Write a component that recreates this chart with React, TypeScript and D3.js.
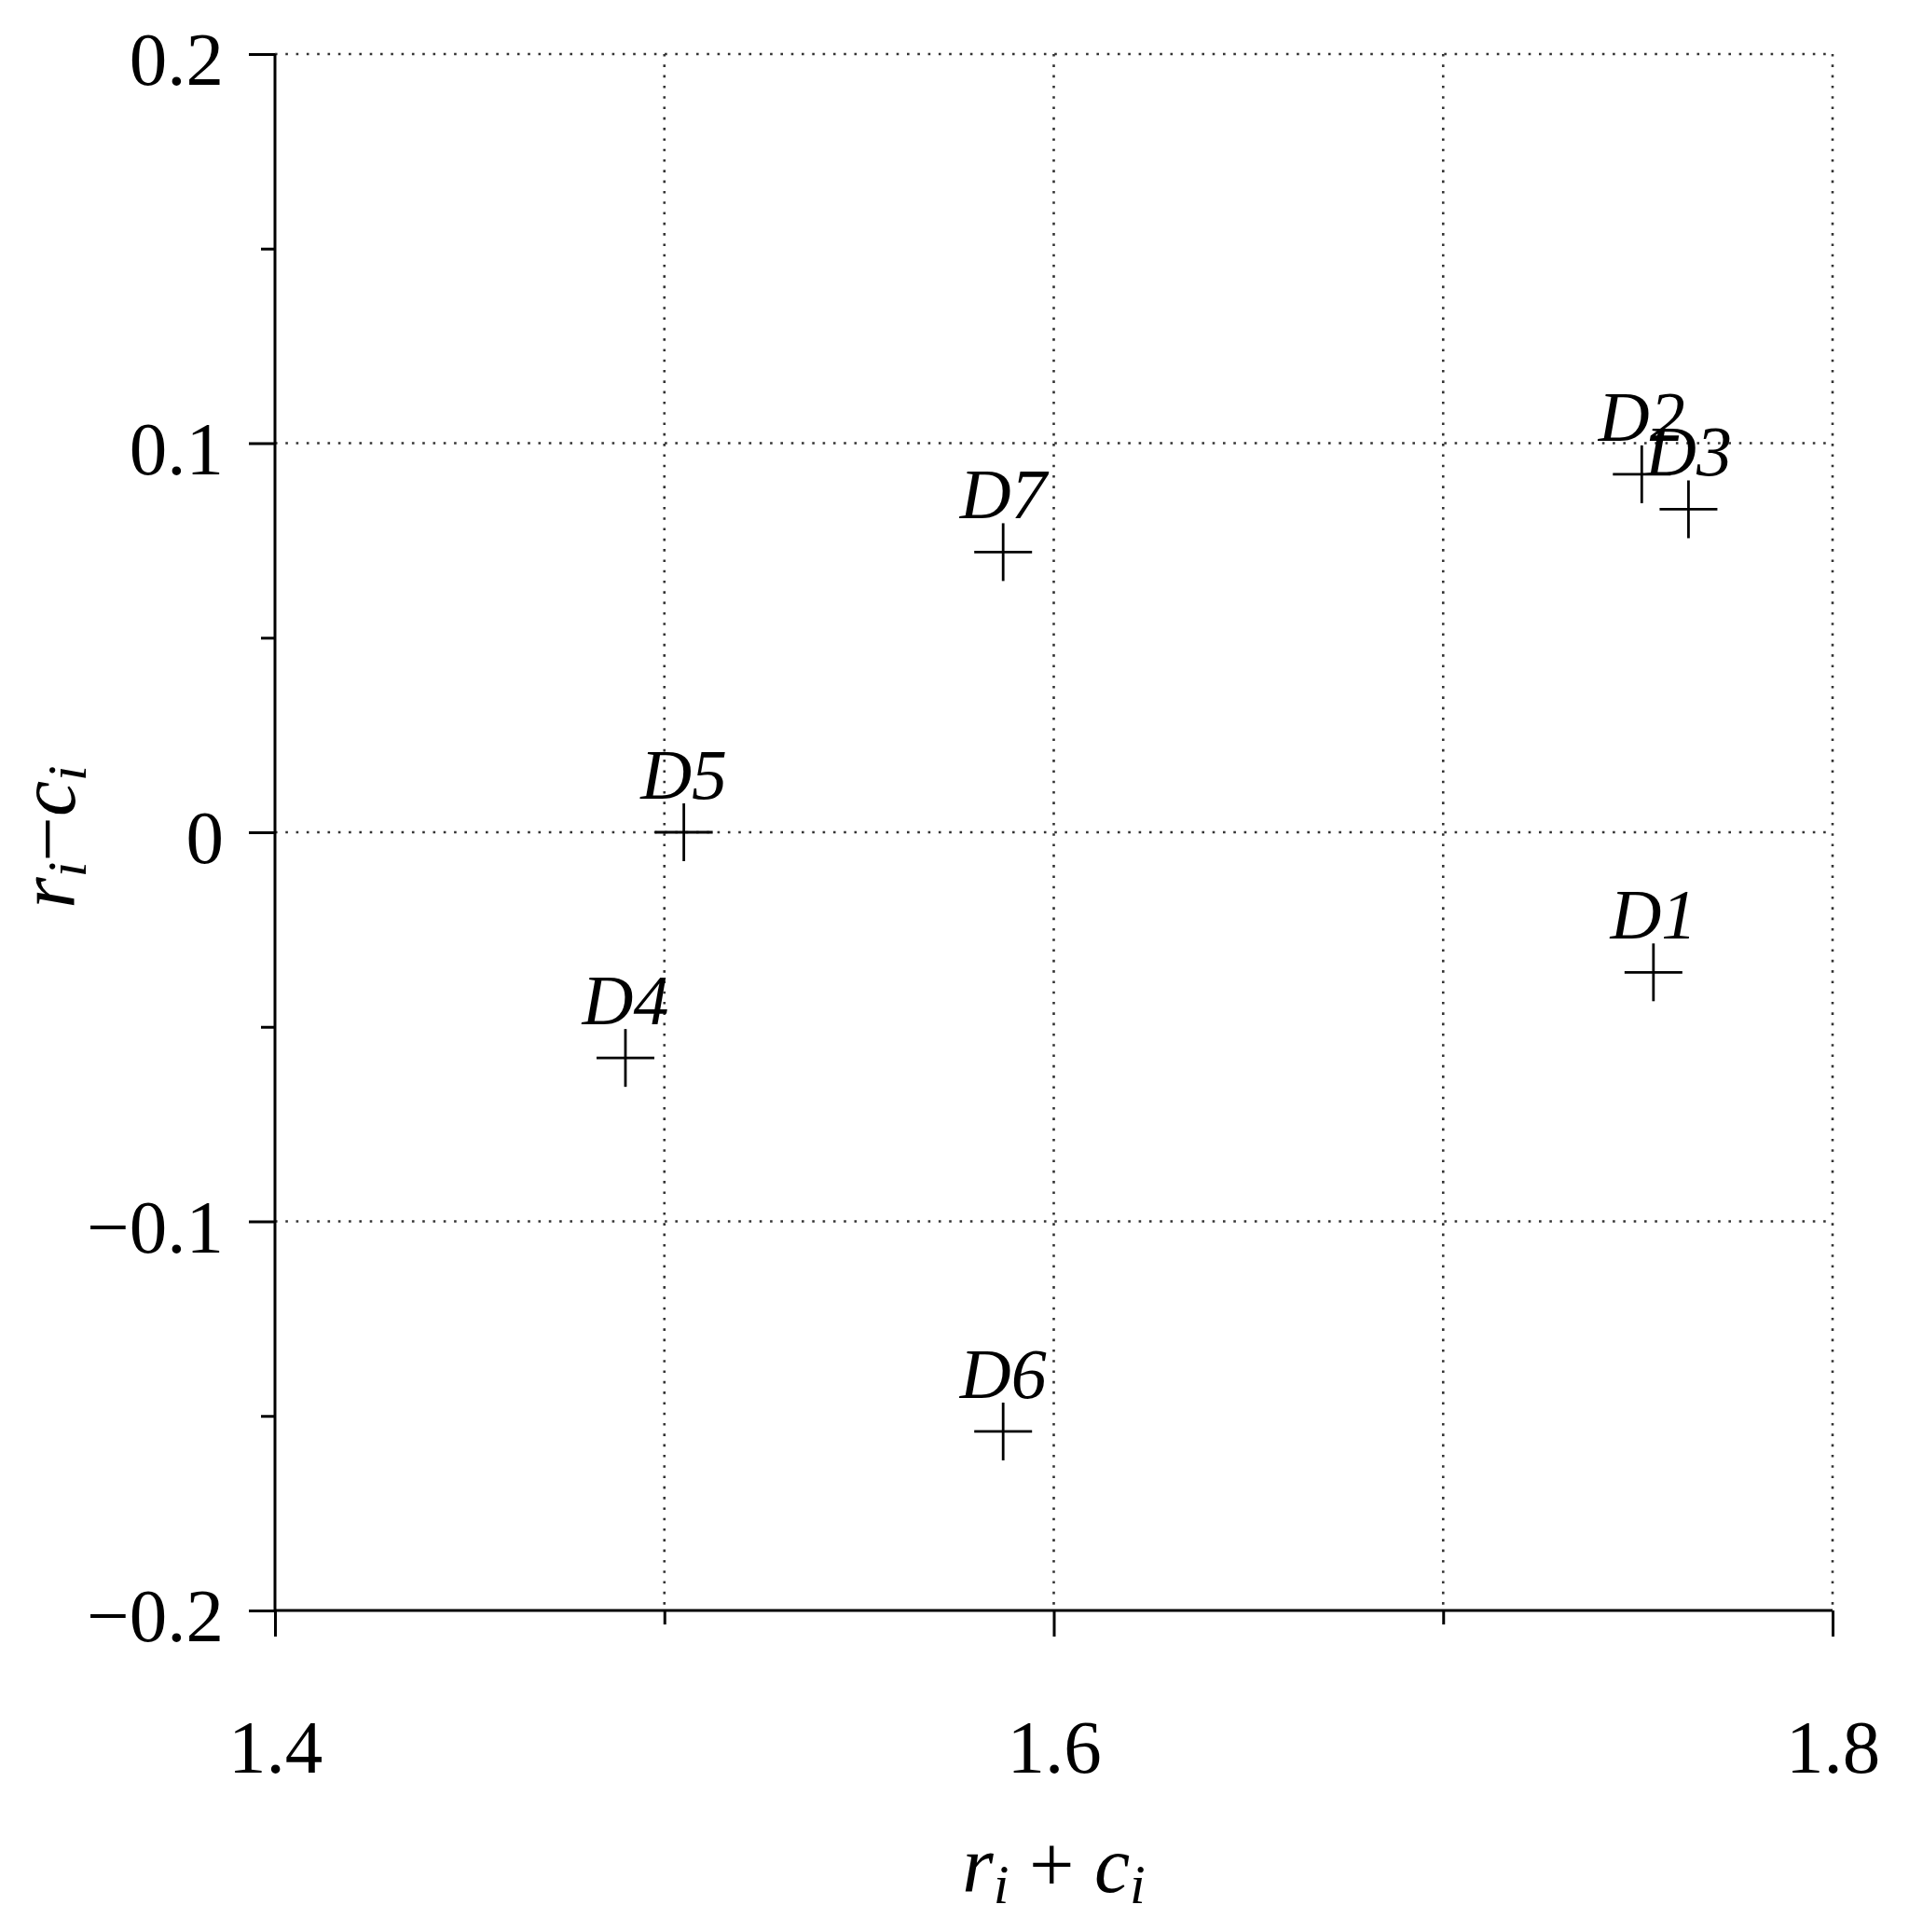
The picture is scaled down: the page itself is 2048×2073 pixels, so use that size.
import React, { useRef, useEffect } from 'react';
import * as d3 from 'd3';

// points: r_i + c_i (x) and r_i - c_i (y)
const names = ['D1', 'D2', 'D3', 'D4', 'D5', 'D6', 'D7'];
const sums = [1.754, 1.751, 1.763, 1.490, 1.505, 1.587, 1.587];
const diffs = [-0.036, 0.092, 0.083, -0.058, 0.0, -0.154, 0.072];

const xMajor = [1.4, 1.6, 1.8];
const xMinor = [1.5, 1.7];
const xGrid = [1.5, 1.6, 1.7, 1.8];
const yMajor = [-0.2, -0.1, 0, 0.1, 0.2];
const yMinor = [-0.15, -0.05, 0.05, 0.15];
const yGrid = [-0.1, 0, 0.1, 0.2];

const W = 2048;
const H = 2073;
const FONT = '"Liberation Serif", "Times New Roman", serif';

const fmt = (v: number) => (v === 0 ? '0' : (v < 0 ? '\u2212' : '') + Math.abs(v).toString());

const App = () => {
  const svgRef = useRef<SVGSVGElement>(null);

  useEffect(() => {
    const svg = d3.select(svgRef.current);
    svg.selectAll('*').remove();

    const margin = { top: 58, right: 82, bottom: 345, left: 295 };
    const w = W - margin.left - margin.right;
    const h = H - margin.top - margin.bottom;

    const x = d3.scaleLinear().domain([1.4, 1.8]).range([0, w]);
    const y = d3.scaleLinear().domain([-0.2, 0.2]).range([h, 0]);

    const g = svg.append('g').attr('transform', `translate(${margin.left},${margin.top})`);

    // dotted grid
    g.selectAll('.gx').data(xGrid).enter().append('line')
      .attr('x1', d => x(d)).attr('x2', d => x(d))
      .attr('y1', 0).attr('y2', h)
      .attr('stroke', '#333').attr('stroke-width', 2.6).attr('stroke-dasharray', '2.6 8.7');
    g.selectAll('.gy').data(yGrid).enter().append('line')
      .attr('y1', d => y(d)).attr('y2', d => y(d))
      .attr('x1', 0).attr('x2', w)
      .attr('stroke', '#333').attr('stroke-width', 2.6).attr('stroke-dasharray', '2.6 8.7');

    const styleAxis = (sel: any) => {
      sel.select('.domain').remove();
      sel.selectAll('line').attr('stroke', '#000').attr('stroke-width', 3);
      sel.selectAll('text').attr('fill', '#000').style('font-family', FONT).style('font-size', '81px');
    };

    // y axis
    g.append('g')
      .call(d3.axisLeft(y).tickValues(yMajor).tickSize(28).tickPadding(27).tickFormat(d => fmt(+d)))
      .call(styleAxis)
      .selectAll('text').attr('dy', '0.86em').attr('y', -37);
    g.append('g')
      .call(d3.axisLeft(y).tickValues(yMinor).tickSize(15).tickFormat(() => ''))
      .call(styleAxis);

    // x axis
    g.append('g')
      .attr('transform', `translate(0,${h})`)
      .call(d3.axisBottom(x).tickValues(xMajor).tickSize(28).tickFormat(d => String(d)))
      .call(styleAxis)
      .selectAll('text').attr('dy', 0).attr('y', 174);
    g.append('g')
      .attr('transform', `translate(0,${h})`)
      .call(d3.axisBottom(x).tickValues(xMinor).tickSize(15).tickFormat(() => ''))
      .call(styleAxis);

    // solid axis lines
    g.append('line').attr('x1', 0).attr('x2', 0).attr('y1', 0).attr('y2', h)
      .attr('stroke', '#000').attr('stroke-width', 3);
    g.append('line').attr('x1', 0).attr('x2', w).attr('y1', h).attr('y2', h)
      .attr('stroke', '#000').attr('stroke-width', 3);

    const pts = names.map((n, i) => ({ n, sx: sums[i], dy: diffs[i] }));

    // crosses
    const arm = 31;
    const marks = g.selectAll('.pt').data(pts).enter().append('g')
      .attr('transform', d => `translate(${x(d.sx)},${y(d.dy)})`);
    marks.append('line').attr('x1', -arm).attr('x2', arm).attr('y1', 0).attr('y2', 0)
      .attr('stroke', '#000').attr('stroke-width', 2.8);
    marks.append('line').attr('x1', 0).attr('x2', 0).attr('y1', -arm).attr('y2', arm)
      .attr('stroke', '#000').attr('stroke-width', 2.8);
    marks.append('text')
      .attr('x', 0).attr('y', -36)
      .attr('text-anchor', 'middle')
      .style('font-family', FONT).style('font-style', 'italic').style('font-size', '76px')
      .attr('fill', '#000')
      .text(d => d.n);

    // axis titles with subscripts
    const title = (t: any, a: string, op: string, b: string) => {
      t.style('font-family', FONT).style('font-style', 'italic').style('font-size', '86px').attr('fill', '#000');
      t.append('tspan').text(a);
      t.append('tspan').attr('dy', 12).style('font-size', '60px').text('i');
      t.append('tspan').attr('dy', -12).style('font-style', 'normal').text(op);
      t.append('tspan').text(b);
      t.append('tspan').attr('dy', 12).style('font-size', '60px').text('i');
    };

    const xt = svg.append('text')
      .attr('x', margin.left + w / 2).attr('y', 2030)
      .attr('text-anchor', 'middle');
    title(xt, 'r', ' + ', 'c');

    const yt = svg.append('text')
      .attr('transform', `translate(80,${margin.top + h / 2 + 5}) rotate(-90)`)
      .attr('text-anchor', 'middle');
    title(yt, 'r', '\u2212', 'c');
  }, []);

  return (
    <svg
      ref={svgRef}
      width={W}
      height={H}
      style={{ position: 'absolute', left: 0, top: 0, display: 'block', background: '#fff' }}
    />
  );
};

export default App;
